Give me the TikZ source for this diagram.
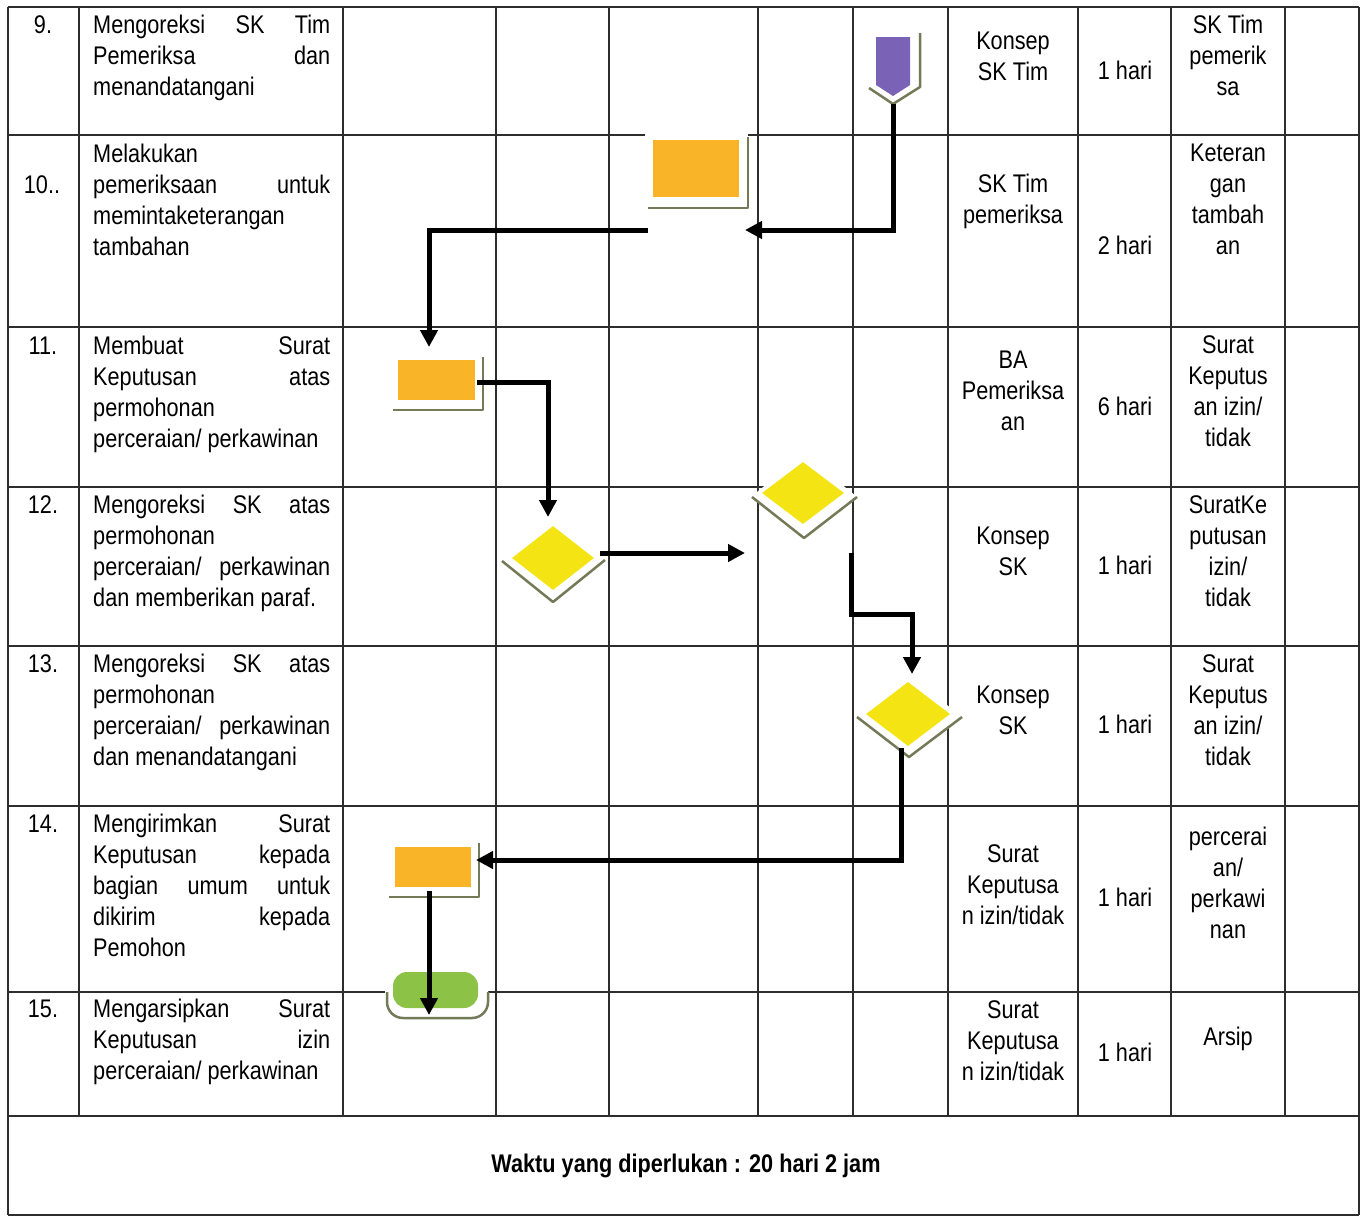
\documentclass[tikz,border=0pt]{standalone}
\usepackage{fontspec}
\setmainfont[FakeStretch=0.85]{Liberation Sans}
\usetikzlibrary{arrows.meta,shapes.geometric}
\definecolor{orng}{RGB}{250,180,40}
\definecolor{yel}{RGB}{245,228,20}
\definecolor{grn}{RGB}{140,195,70}
\definecolor{purp}{RGB}{122,98,182}
\definecolor{shad}{RGB}{115,122,88}
\definecolor{gridc}{RGB}{45,45,45}
\newcommand{\jl}[1]{\makebox[237pt][s]{#1}}
\newcommand{\fs}{\rule{0pt}{20pt}}
\begin{document}
\begin{tikzpicture}[x=1pt,y=-1pt,
  txt/.style={font=\fontsize{25.5}{31}\selectfont, inner sep=0pt},
  desc/.style={txt, anchor=north west, align=left},
  ctr/.style={txt, anchor=north, align=center},
  num/.style={txt, anchor=base},
  gridline/.style={draw=gridc, line width=1.5pt},
  halo/.style={fill=white},
  shadowline/.style={draw=shad, line width=2.5pt, line join=round},
  flow/.style={draw=black, line width=5pt, -{Triangle[length=17pt,width=17pt]}},
  proc/.style={rectangle, fill=orng, inner sep=0pt},
  dec/.style={diamond, fill=yel, inner sep=0pt},
  term/.style={rectangle, rounded corners=14pt, fill=grn, inner sep=0pt},
]
\useasboundingbox (0,0) rectangle (1367,1216);
\fill[white] (0,0) rectangle (1367,1216);

% grid
\foreach \y in {7,135,327,487,646,806,992,1116,1215}
  \draw[gridline] (8,\y) -- (1359,\y);
\foreach \x in {79,343,496,609,758,853,948,1078,1171,1285}
  \draw[gridline] (\x,7) -- (\x,1116);
\draw[gridline] (8,7) -- (8,1215);
\draw[gridline] (1359,7) -- (1359,1215);

% numbers
\node[num] (n9) at (43,33) {9.};
\node[num] (n10) at (42,193) {10..};
\node[num] (n11) at (43,354) {11.};
\node[num] (n12) at (43,513) {12.};
\node[num] (n13) at (43,672) {13.};
\node[num] (n14) at (43,832) {14.};
\node[num] (n15) at (43,1017) {15.};

% descriptions
\node[desc] (t9) at (93,13) {\fs\jl{Mengoreksi SK Tim}\\\jl{Pemeriksa dan}\\menandatangani};
\node[desc] (t10) at (93,142) {\fs Melakukan\\\jl{pemeriksaan untuk}\\memintaketerangan\\tambahan};
\node[desc] (t11) at (93,334) {\fs\jl{Membuat Surat}\\\jl{Keputusan atas}\\permohonan\\perceraian/ perkawinan};
\node[desc] (t12) at (93,493) {\fs\jl{Mengoreksi SK atas}\\permohonan\\\jl{perceraian/ perkawinan}\\dan memberikan paraf.};
\node[desc] (t13) at (93,652) {\fs\jl{Mengoreksi SK atas}\\permohonan\\\jl{perceraian/ perkawinan}\\dan menandatangani};
\node[desc] (t14) at (93,812) {\fs\jl{Mengirimkan Surat}\\\jl{Keputusan kepada}\\\jl{bagian umum untuk}\\\jl{dikirim kepada}\\Pemohon};
\node[desc] (t15) at (93,997) {\fs\jl{Mengarsipkan Surat}\\\jl{Keputusan izin}\\perceraian/ perkawinan};

% input column
\node[ctr] (a9) at (1013,29) {\fs Konsep\\SK Tim};
\node[ctr] (a10) at (1013,172) {\fs SK Tim\\pemeriksa};
\node[ctr] (a11) at (1013,348) {\fs BA\\Pemeriksa\\an};
\node[ctr] (a12) at (1013,524) {\fs Konsep\\SK};
\node[ctr] (a13) at (1013,683) {\fs Konsep\\SK};
\node[ctr] (a14) at (1013,842) {\fs Surat\\Keputusa\\n izin/tidak};
\node[ctr] (a15) at (1013,998) {\fs Surat\\Keputusa\\n izin/tidak};

% time column
\node[num] (b9) at (1125,79) {1 hari};
\node[num] (b10) at (1125,254) {2 hari};
\node[num] (b11) at (1125,415) {6 hari};
\node[num] (b12) at (1125,574) {1 hari};
\node[num] (b13) at (1125,733) {1 hari};
\node[num] (b14) at (1125,906) {1 hari};
\node[num] (b15) at (1125,1061) {1 hari};

% output column
\node[ctr] (o9) at (1228,13) {\fs SK Tim\\pemerik\\sa};
\node[ctr] (o10) at (1228,141) {\fs Keteran\\gan\\tambah\\an};
\node[ctr] (o11) at (1228,333) {\fs Surat\\Keputus\\an izin/\\tidak};
\node[ctr] (o12) at (1228,493) {\fs SuratKe\\putusan\\izin/\\tidak};
\node[ctr] (o13) at (1228,652) {\fs Surat\\Keputus\\an izin/\\tidak};
\node[ctr] (o14) at (1228,825) {\fs percerai\\an/\\perkawi\\nan};
\node[num] (o15) at (1228,1045) {Arsip};

% footer
\node[num] (foot) at (686,1172) {\bfseries Waktu yang diperlukan : 20 hari 2 jam};

% ---- shapes: halos and shadows
% purple off-page connector
\fill[halo] (867,30) -- (920,30) -- (920,88) -- (893,104) -- (867,88) -- cycle;
\draw[shadowline] (869,88) -- (893,104) -- (920,87) -- (920,33);
\fill[purp] (876,37) -- (910,37) -- (910,85) -- (893,96) -- (876,85) -- cycle;
\node[inner sep=0pt, minimum width=34pt, minimum height=59pt] (p9) at (893,66.5) {};

% rect row 10
\fill[halo] (645,133) rectangle (748,208);
\draw[shadowline] (648,208) -- (748,208) -- (748,137);
\node[proc, minimum width=86pt, minimum height=57pt] (r10) at (696,168.5) {};
% rect row 11
\fill[halo] (391,353) rectangle (483,410);
\draw[shadowline] (393,410) -- (483,410) -- (483,357);
\node[proc, minimum width=77pt, minimum height=40pt] (r11) at (436.5,380) {};
% rect row 14
\fill[halo] (388,840) rectangle (479,897);
\draw[shadowline] (389,897) -- (479,897) -- (479,843);
\node[proc, minimum width=76pt, minimum height=40pt] (r14) at (433,867) {};
% terminator row 15
\fill[halo, rounded corners=18pt] (385,964) rectangle (488,1019);
\draw[shadowline, rounded corners=16pt] (387,992) -- (387,1018) -- (488,1018) -- (488,992);
\node[term, minimum width=85pt, minimum height=36pt] (g15) at (435.5,990) {};
% diamond row 12 a
\fill[halo] (502,560) -- (553,518) -- (604,560) -- (553,602) -- cycle;
\draw[shadowline] (502,561) -- (553,602) -- (605,560);
\node[dec, minimum width=82pt, minimum height=64pt] (d12a) at (553,558) {};
% diamond row 12 b
\fill[halo] (752,496) -- (804,454) -- (856,496) -- (804,538) -- cycle;
\draw[shadowline] (752,497) -- (804,538) -- (857,497);
\node[dec, minimum width=82pt, minimum height=62pt] (d12b) at (803,493) {};
% diamond row 13
\fill[halo] (857,716) -- (909,675) -- (961,716) -- (909,757) -- cycle;
\draw[shadowline] (857,717) -- (909,757) -- (962,717);
\node[dec, minimum width=84pt, minimum height=64pt] (d13) at (908,714) {};

% ---- connectors
\coordinate (c1a) at (893,104);
\coordinate (c1e) at (745,230);
\coordinate (c2a) at (648,230);
\coordinate (c2e) at (429,347);
\coordinate (c3a) at (477,382);
\coordinate (c3e) at (548,517);
\coordinate (c4a) at (600,553);
\coordinate (c4e) at (745,553);
\coordinate (c5a) at (851,553);
\coordinate (c5m) at (912,614);
\coordinate (c5e) at (912,674);
\coordinate (c6a) at (901,748);
\coordinate (c6e) at (476,860);
\coordinate (c7a) at (429,891);
\coordinate (c7e) at (429,1015);

\draw[flow] (c1a) |- (c1e);
\draw[flow] (c2a) -| (c2e);
\draw[flow] (c3a) -| (c3e);
\draw[flow] (c4a) -- (c4e);
\draw[flow] (c5a) |- (c5m) -- (c5e);
\draw[flow] (c6a) |- (c6e);
\draw[flow] (c7a) -- (c7e);
\end{tikzpicture}
\end{document}
